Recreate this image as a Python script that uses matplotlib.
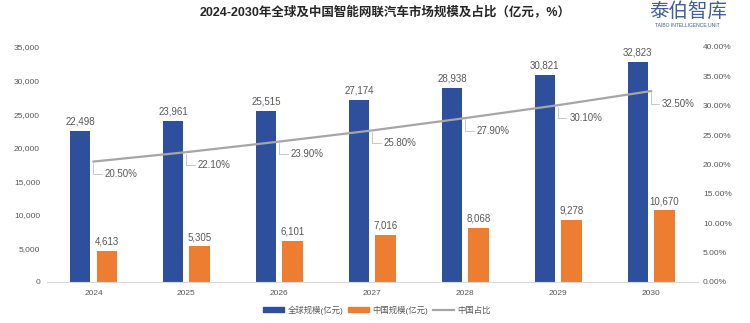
import matplotlib.pyplot as plt
import numpy as np
from matplotlib.patches import Patch
from matplotlib.lines import Line2D
from matplotlib.ticker import FuncFormatter

plt.rcParams['font.family'] = ['Liberation Sans', 'Noto Sans CJK SC', 'DejaVu Sans']

years = ['2024', '2025', '2026', '2027', '2028', '2029', '2030']
global_size = [22498, 23961, 25515, 27174, 28938, 30821, 32823]
china_size = [4613, 5305, 6101, 7016, 8068, 9278, 10670]
china_share = [20.5, 22.1, 23.9, 25.8, 27.9, 30.1, 32.5]

blue = '#2E4F9B'
orange = '#ED7D31'
gray_line = '#A6A6A6'
txt = '#595959'

fig = plt.figure(figsize=(7.5, 3.23), dpi=100)
ax = fig.add_axes([0.0627, 0.127, 0.8673, 0.7275])
ax2 = ax.twinx()

x = np.arange(len(years))
w = 0.22
off = 0.143
b1 = ax.bar(x - off, global_size, w, color=blue, label='全球规模(亿元)', zorder=2)
b2 = ax.bar(x + off, china_size, w, color=orange, label='中国规模(亿元)', zorder=2)
ax.bar_label(b1, labels=[f'{v:,}' for v in global_size], padding=3, fontsize=7, color=txt)
ax.bar_label(b2, labels=[f'{v:,}' for v in china_size], padding=3, fontsize=7, color=txt)

ax.set_xlim(-0.5, len(years) - 0.5)
ax.set_ylim(0, 35000)
ax.set_yticks(np.arange(0, 35001, 5000))
ax.yaxis.set_major_formatter(FuncFormatter(lambda v, p: f'{int(v):,}'))
ax.set_xticks(x)
ax.set_xticklabels(years)

ax2.plot(x, china_share, color=gray_line, lw=1.6, zorder=3)
ax2.set_ylim(0, 40)
ax2.set_yticks(np.arange(0, 40.01, 5))
ax2.yaxis.set_major_formatter(FuncFormatter(lambda v, p: f'{v:.2f}%'))

for xi, v in zip(x, china_share):
    ax2.annotate(f'{v:.2f}%', xy=(xi, v), xytext=(8, -9), textcoords='offset points',
                 fontsize=7, color=txt, va='center', ha='left',
                 arrowprops=dict(arrowstyle='-', color='#BFBFBF', lw=0.6,
                                 connectionstyle='angle,angleA=0,angleB=90,rad=0',
                                 shrinkA=0, shrinkB=1))

for a in (ax, ax2):
    for s in ['top', 'left', 'right']:
        a.spines[s].set_visible(False)
    a.spines['bottom'].set_color('#D9D9D9')
    a.tick_params(length=0, labelsize=6, colors=txt)
ax2.spines['bottom'].set_visible(False)
ax.tick_params(axis='x', pad=6)
ax.tick_params(axis='y', pad=5)
ax2.tick_params(axis='y', pad=4)

fig.text(0.513, 0.963, '2024-2030年全球及中国智能网联汽车市场规模及占比（亿元，%）',
         ha='center', va='center', fontsize=9, fontweight='bold', color='#262626')
fig.text(0.917, 0.966, '泰伯智库', ha='center', va='center', fontsize=14,
         color='#3F5F95', family=['Noto Sans CJK SC'])
fig.text(0.917, 0.921, 'TAIBO INTELLIGENCE UNIT', ha='center', va='center',
         fontsize=3.6, color='#3F5F95')

handles = [Patch(color=blue), Patch(color=orange), Line2D([], [], color=gray_line, lw=1.6)]
labels = ['全球规模(亿元)', '中国规模(亿元)', '中国占比']
fig.legend(handles, labels, loc='center', bbox_to_anchor=(0.503, 0.04), ncol=3,
           frameon=False, fontsize=6, labelcolor=txt, handlelength=2.5, handleheight=0.6,
           columnspacing=0.6, handletextpad=0.4)

fig.savefig('out.png', dpi=100)
